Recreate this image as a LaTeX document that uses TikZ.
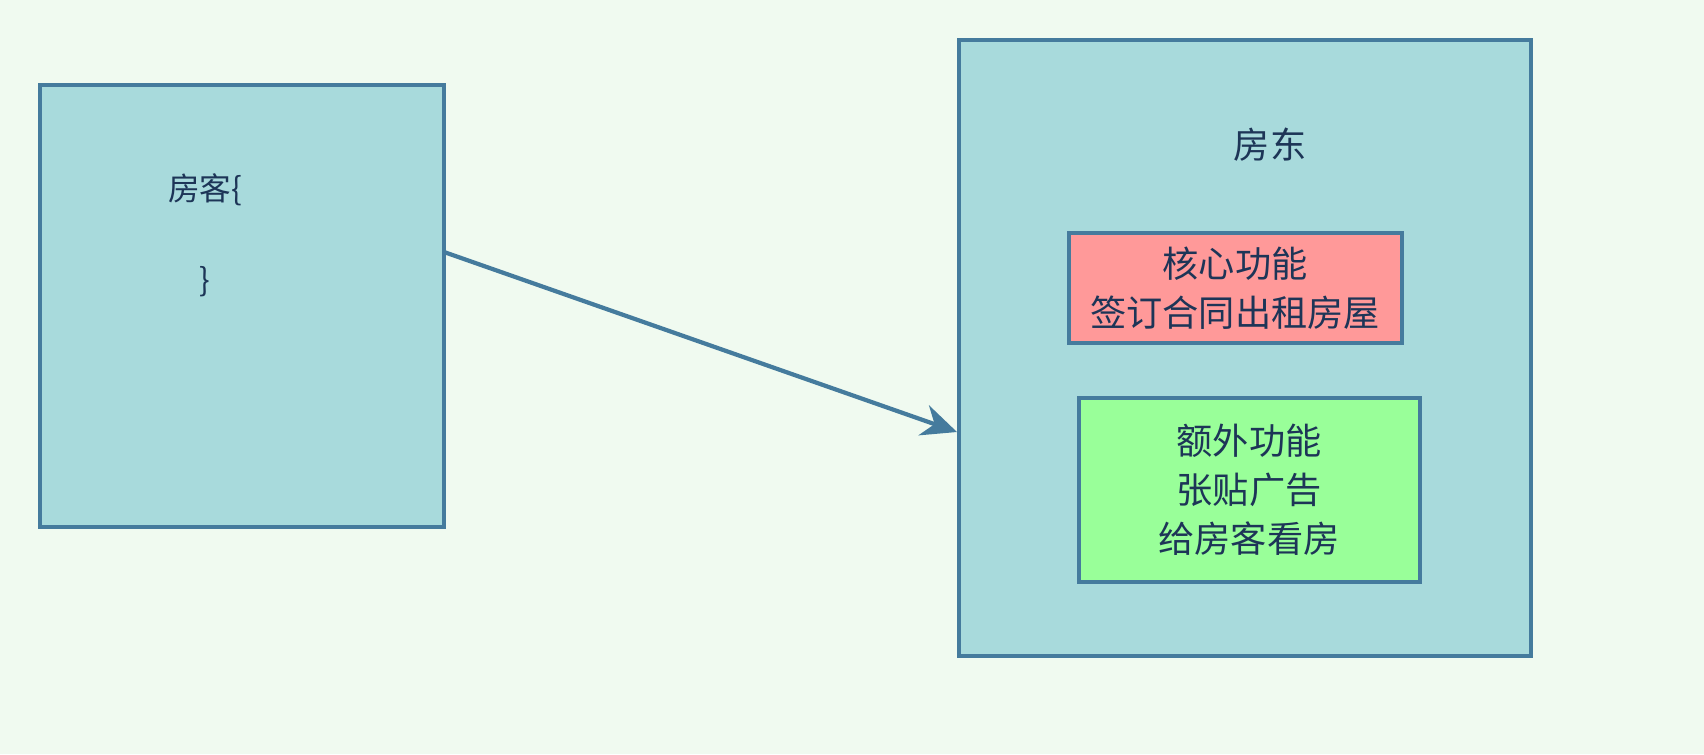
\documentclass[tikz,border=0pt]{standalone}
\usepackage{fontspec}
\newfontfamily\cjk{Noto Sans CJK SC}
\usetikzlibrary{arrows.meta}
\definecolor{bgcol}{RGB}{240,250,240}
\definecolor{boxfill}{RGB}{168,218,220}
\definecolor{boxline}{RGB}{69,123,157}
\definecolor{txtcol}{RGB}{29,53,87}
\definecolor{corefill}{RGB}{255,153,153}
\definecolor{extrafill}{RGB}{153,255,153}
\tikzset{
    box/.style={draw=boxline, line width=1.2pt, inner sep=0pt},
    lbl/.style={text=txtcol, font=\cjk\fontsize{10.3}{14}\selectfont, align=center}
}

\begin{document}
\begin{tikzpicture}[x=0.01cm, y=-0.01cm]

% Background.
\fill[bgcol] (0, 0) rectangle (1704, 754);

% Defining nodes.
\draw[box, fill=boxfill] (40, 85) rectangle (444, 527);
\coordinate (T1) at (444, 252);
\node[lbl, font=\cjk\fontsize{9}{12}\selectfont] (K1) at (205, 190) {房客\{};
\node[lbl, font=\cjk\fontsize{9}{12}\selectfont] (K2) at (205, 282) {\}};

\draw[box, fill=boxfill] (959, 40) rectangle (1531, 656);
\coordinate (L1) at (957, 432);
\node[lbl] (D1) at (1270, 145) {房东};
\draw[box, fill=corefill] (1069, 233) rectangle (1402, 343);
\node[lbl] (C1) at (1235, 288) {核心功能\\签订合同出租房屋};
\draw[box, fill=extrafill] (1079, 398) rectangle (1420, 582);
\node[lbl] (E1) at (1249, 490) {额外功能\\张贴广告\\给房客看房};

% Connector.
\draw[boxline, line width=1.2pt, -{Stealth[length=10pt, width=9pt]}] (T1) -- (L1);

\end{tikzpicture}
\end{document}
